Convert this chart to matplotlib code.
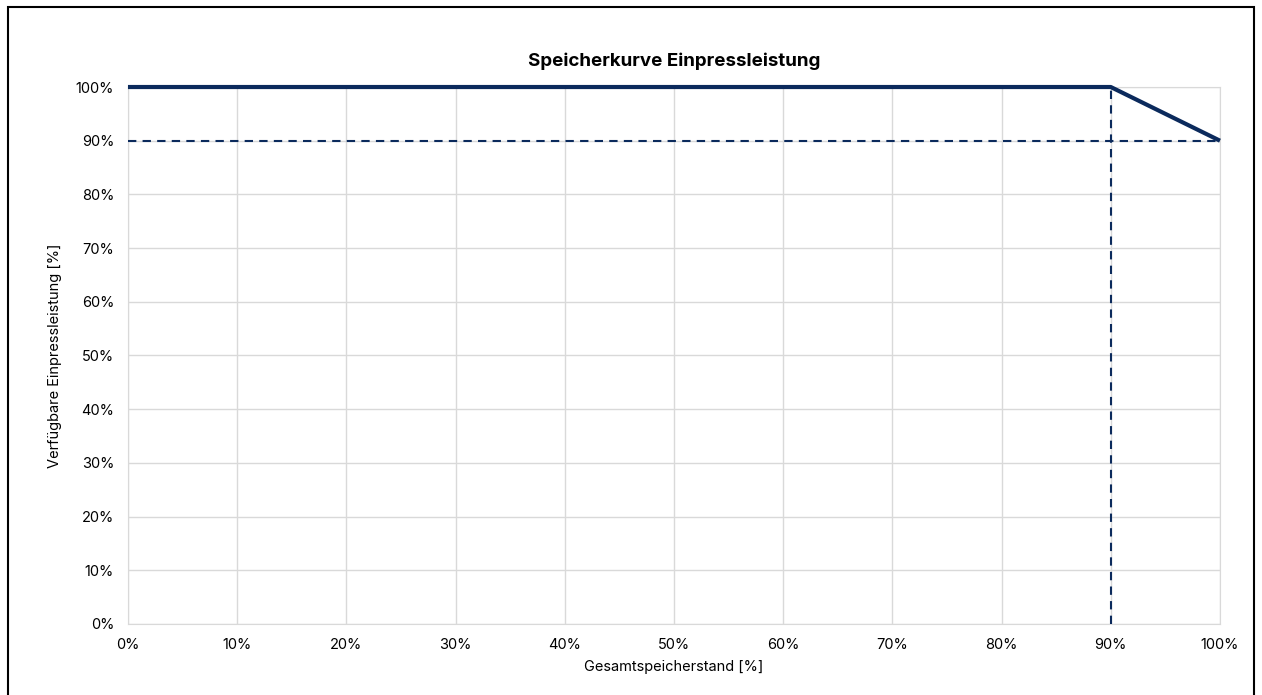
import matplotlib
matplotlib.use("Agg")
import matplotlib.pyplot as plt
from matplotlib.patches import Rectangle
from matplotlib.ticker import PercentFormatter

plt.rcParams['font.family'] = ['Inter', 'DejaVu Sans']

# Speicherkurve: Gesamtspeicherstand -> verfügbare Einpressleistung
speicherstand = [0, 90, 100]
leistung = [100, 100, 90]

# Hilfslinien
grenze_x = 90
grenze_y = 90

ticks = list(range(0, 101, 10))

navy = '#0b2a5c'

fig = plt.figure(figsize=(12.62, 6.95), dpi=100)
ax = fig.add_axes([0.1014, 0.1022, 0.8653, 0.7726])

ax.plot(speicherstand, leistung, color=navy, linewidth=3, solid_capstyle='butt',
        clip_on=False, zorder=4)
ax.plot([0, 100], [grenze_y, grenze_y], color=navy, linewidth=1.5, linestyle=(0, (4, 3)), zorder=3)
ax.plot([grenze_x, grenze_x], [0, 100], color=navy, linewidth=1.5, linestyle=(0, (4, 3)), zorder=3)

ax.set_xlim(0, 100)
ax.set_ylim(0, 100)
ax.set_xticks(ticks)
ax.set_yticks(ticks)
ax.xaxis.set_major_formatter(PercentFormatter(decimals=0))
ax.yaxis.set_major_formatter(PercentFormatter(decimals=0))
ax.tick_params(length=0, labelsize=10.5, pad=10)
ax.grid(color='#d9d9d9', linewidth=1)
for s in ax.spines.values():
    s.set_color('#d9d9d9')

ax.set_title('Speicherkurve Einpressleistung', fontsize=13.5, fontweight='bold', pad=15)
ax.set_xlabel('Gesamtspeicherstand [%]', fontsize=10.5, labelpad=6)
ax.set_ylabel('Verfügbare Einpressleistung [%]', fontsize=10.5, labelpad=10)

# Rahmen um die Grafik
fig.patches.append(Rectangle((0.0065, -0.01), 0.987, 1.0, transform=fig.transFigure,
                             fill=False, edgecolor='black', linewidth=1.5))

fig.savefig('out.png', dpi=100)
